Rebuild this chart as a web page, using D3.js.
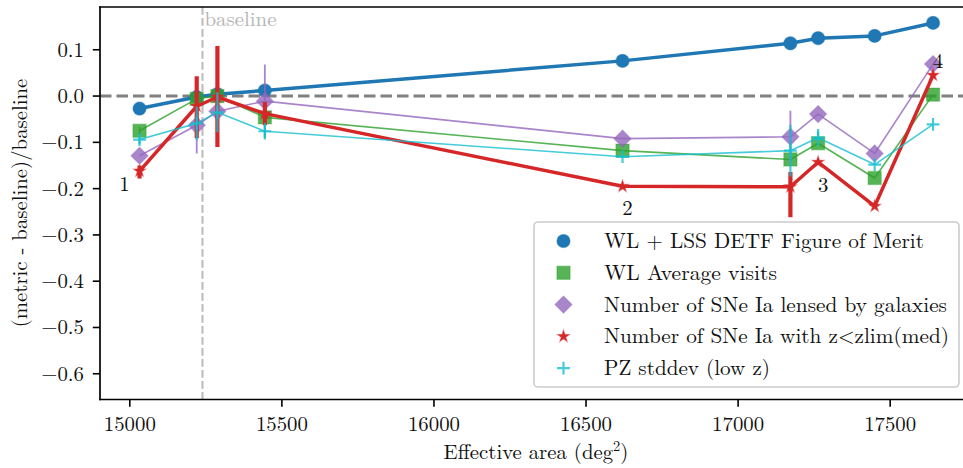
<!DOCTYPE html>
<html>
<head>
<meta charset="utf-8">
<script src="https://cdn.jsdelivr.net/npm/d3@7"></script>
<style>
  html, body { margin: 0; padding: 0; background: #fff; }
  svg { display: block; }
</style>
</head>
<body>
<svg id="chart" width="963" height="468"></svg>
<script>
// ---------------- data ----------------
const effArea = [15032, 15220, 15288, 15444, 16620, 17172, 17263, 17449, 17641];
const baselineArea = 15239;

const seriesNames = [
  "WL + LSS DETF Figure of Merit",
  "WL Average visits",
  "Number of SNe Ia lensed by galaxies",
  "Number of SNe Ia with z<zlim(med)",
  "PZ stddev (low z)"
];
const fomValues    = [-0.027, -0.002, 0.004, 0.012, 0.076, 0.114, 0.125, 0.130, 0.158];
const visitsValues = [-0.075, -0.006, 0.000, -0.046, -0.118, -0.137, -0.102, -0.177, 0.003];
const lensedValues = [-0.129, -0.063, -0.033, -0.011, -0.092, -0.088, -0.039, -0.124, 0.069];
const snValues     = [-0.162, -0.022, -0.002, -0.038, -0.195, -0.196, -0.143, -0.238, 0.045];
const pzValues     = [-0.094, -0.059, -0.035, -0.076, -0.131, -0.118, -0.090, -0.148, -0.061];

// error bars (minus / plus)
const fomErrMinus    = [0, 0, 0, 0, 0, 0, 0, 0, 0];
const fomErrPlus     = [0, 0, 0, 0, 0, 0, 0, 0, 0];
const visitsErrMinus = [0.008, 0, 0, 0, 0, 0, 0, 0, 0];
const visitsErrPlus  = [0.008, 0, 0, 0, 0, 0, 0, 0, 0];
const lensedErrMinus = [0, 0.061, 0, 0.079, 0, 0.056, 0, 0, 0];
const lensedErrPlus  = [0, 0.061, 0, 0.079, 0, 0.056, 0, 0, 0];
const snErrMinus     = [0.016, 0.069, 0.108, 0.025, 0, 0.066, 0, 0, 0];
const snErrPlus      = [0.012, 0.065, 0.110, 0.025, 0, 0.032, 0, 0, 0];
const pzErrMinus     = [0.010, 0.036, 0.043, 0.018, 0, 0.056, 0.019, 0, 0];
const pzErrPlus      = [0.010, 0.036, 0.043, 0.018, 0, 0.056, 0.019, 0, 0];

const xTicks = [15000, 15500, 16000, 16500, 17000, 17500];
const yTicks = [0.1, 0.0, -0.1, -0.2, -0.3, -0.4, -0.5, -0.6];

const annotLabels = ["1", "2", "3", "4"];
const annotIndex  = [0, 4, 6, 8];

// ---------------- styling ----------------
const FONT = "Latin Modern Roman, CMU Serif, Liberation Serif, serif";
const styles = [
  { color: "#1f77b4", opacity: 1.0, lw: 3.5, elw: 2, marker: "circle",  size: 6.6 },
  { color: "#2ca02c", opacity: 0.8, lw: 1.6, elw: 1.8, marker: "square",  size: 6.6 },
  { color: "#9467bd", opacity: 0.8, lw: 1.6, elw: 1.8, marker: "diamond", size: 8.6 },
  { color: "#d62728", opacity: 1.0, lw: 3.5, elw: 4.2, marker: "star",    size: 6.2 },
  { color: "#17becf", opacity: 0.8, lw: 1.6, elw: 2.2, marker: "plus",    size: 6.4 }
];
const valuesList = [fomValues, visitsValues, lensedValues, snValues, pzValues];
const errMinusList = [fomErrMinus, visitsErrMinus, lensedErrMinus, snErrMinus, pzErrMinus];
const errPlusList  = [fomErrPlus, visitsErrPlus, lensedErrPlus, snErrPlus, pzErrPlus];

const FS = 20.8;
const svg = d3.select("#chart");

const x = d3.scaleLinear().domain([14902, 17771]).range([100, 972.6]);
const y = d3.scaleLinear().domain([-0.6556, 0.1924]).range([399.5, 7]);

function txt(sel) { return sel.append("text").attr("font-family", FONT); }

const plot = svg.append("g");
const clipId = "plotclip";
svg.append("defs").append("clipPath").attr("id", clipId)
  .append("rect").attr("x", 100).attr("y", 7).attr("width", 872.6).attr("height", 392.5);

// reference lines
plot.append("line")
  .attr("x1", 100).attr("x2", 972.6).attr("y1", y(0)).attr("y2", y(0))
  .attr("stroke", "#808080").attr("stroke-width", 3.1).attr("stroke-dasharray", "11.5,5");
plot.append("line")
  .attr("x1", x(baselineArea)).attr("x2", x(baselineArea)).attr("y1", 7).attr("y2", 399.5)
  .attr("stroke", "#bdbdbd").attr("stroke-width", 2.1).attr("stroke-dasharray", "7.7,3.3");
txt(plot)
  .attr("x", x(baselineArea) + 2).attr("y", 26)
  .attr("fill", "#b5b5b5").attr("font-size", 20)
  .attr("textLength", 72).attr("lengthAdjust", "spacingAndGlyphs").text("baseline");

// marker path generator
function markerPath(type, s) {
  if (type === "circle") return d3.symbol(d3.symbolCircle, Math.PI * s * s)();
  if (type === "square") return `M${-s},${-s}H${s}V${s}H${-s}Z`;
  if (type === "diamond") return `M0,${-s}L${s},0L0,${s}L${-s},0Z`;
  if (type === "star") return d3.symbol(d3.symbolStar, s * s / 0.8908130915292852)();
  if (type === "plus") return `M${-s},0H${s}M0,${-s}V${s}`;
}
function drawMarker(g, st, cx, cy) {
  const p = g.append("path").attr("d", markerPath(st.marker, st.size))
    .attr("transform", `translate(${cx},${cy})`);
  if (st.marker === "plus") {
    p.attr("fill", "none").attr("stroke", st.color).attr("stroke-width", 2.2)
     .attr("stroke-opacity", st.opacity);
  } else {
    p.attr("fill", st.color).attr("fill-opacity", st.opacity)
     .attr("stroke", st.color).attr("stroke-opacity", st.opacity * 0.45).attr("stroke-width", 1.2);
  }
}

const g = plot.append("g").attr("clip-path", `url(#${clipId})`);
valuesList.forEach((vals, si) => {
  const st = styles[si];
  const sg = g.append("g");
  const line = d3.line().x((d, i) => x(effArea[i])).y(d => y(d));
  sg.append("path").datum(vals).attr("d", line)
    .attr("fill", "none").attr("stroke", st.color).attr("stroke-opacity", st.opacity)
    .attr("stroke-width", st.lw).attr("stroke-linejoin", "round");
  vals.forEach((v, i) => {
    const em = errMinusList[si][i], ep = errPlusList[si][i];
    if (em > 0 || ep > 0) {
      sg.append("line")
        .attr("x1", x(effArea[i])).attr("x2", x(effArea[i]))
        .attr("y1", y(v - em)).attr("y2", y(v + ep))
        .attr("stroke", st.color).attr("stroke-opacity", st.opacity)
        .attr("stroke-width", st.elw);
    }
  });
  vals.forEach((v, i) => drawMarker(sg, st, x(effArea[i]), y(v)));
});

// annotations (offsets relative to the red series point)
const annotOffsets = [[-15, 20], [5, 29], [5, 29.5], [5, -7]];
annotLabels.forEach((lab, k) => {
  const i = annotIndex[k];
  txt(plot)
    .attr("x", x(effArea[i]) + annotOffsets[k][0])
    .attr("y", y(snValues[i]) + annotOffsets[k][1])
    .attr("text-anchor", "middle").attr("font-size", FS).attr("fill", "#111")
    .text(lab);
});

// axes
const xAxisG = svg.append("g").attr("transform", "translate(0,399.5)");
xAxisG.append("line").attr("x1", 99.2).attr("x2", 972.6).attr("stroke", "#000").attr("stroke-width", 1.7);
xTicks.forEach(t => {
  xAxisG.append("line").attr("x1", x(t)).attr("x2", x(t)).attr("y1", 0).attr("y2", 7.2)
    .attr("stroke", "#000").attr("stroke-width", 1.6);
  txt(xAxisG).attr("x", x(t)).attr("y", 31).attr("text-anchor", "middle")
    .attr("font-size", FS).attr("fill", "#111").text(d3.format("d")(t));
});
const yAxisG = svg.append("g").attr("transform", "translate(100,0)");
yAxisG.append("line").attr("y1", 6.2).attr("y2", 400.3).attr("stroke", "#000").attr("stroke-width", 1.7);
svg.append("line").attr("x1", 99.2).attr("x2", 972.6).attr("y1", 7).attr("y2", 7)
  .attr("stroke", "#000").attr("stroke-width", 1.7);
svg.append("line").attr("x1", 972.6).attr("x2", 972.6).attr("y1", 7).attr("y2", 399.5)
  .attr("stroke", "#000").attr("stroke-width", 1.7);
yTicks.forEach(t => {
  yAxisG.append("line").attr("x1", -7.2).attr("x2", 0).attr("y1", y(t)).attr("y2", y(t))
    .attr("stroke", "#000").attr("stroke-width", 1.6);
  const lab = (t < 0 ? "\u2212" : "") + Math.abs(t).toFixed(1);
  txt(yAxisG).attr("x", -16).attr("y", y(t) + 7).attr("text-anchor", "end")
    .attr("font-size", FS).attr("fill", "#111").text(lab);
});

// axis labels
const xl = txt(svg).attr("x", 536).attr("y", 459).attr("text-anchor", "middle")
  .attr("font-size", FS).attr("fill", "#111");
xl.append("tspan").text("Effective area (deg");
xl.append("tspan").attr("font-size", 14.5).attr("dy", -8).text("2");
xl.append("tspan").attr("dy", 8).text(")");

txt(svg)
  .attr("transform", "translate(27,203) rotate(-90)")
  .attr("text-anchor", "middle").attr("font-size", FS).attr("fill", "#111")
  .text("(metric - baseline)/baseline");

// legend
const legendWidths = [320, 173, 343, 345, 166];
const lg = svg.append("g");
lg.append("rect").attr("x", 534).attr("y", 222).attr("width", 425).attr("height", 165)
  .attr("rx", 4).attr("fill", "#fff").attr("fill-opacity", 0.9)
  .attr("stroke", "#cccccc").attr("stroke-width", 1.6);
seriesNames.forEach((name, i) => {
  const cy = 241 + i * 31.8;
  drawMarker(lg, styles[i], 563.5, cy);
  txt(lg).attr("x", 604).attr("y", cy + 7)
    .attr("font-size", FS).attr("fill", "#111")
    .attr("textLength", legendWidths[i]).attr("lengthAdjust", "spacingAndGlyphs")
    .text(name);
});
</script>
</body>
</html>
